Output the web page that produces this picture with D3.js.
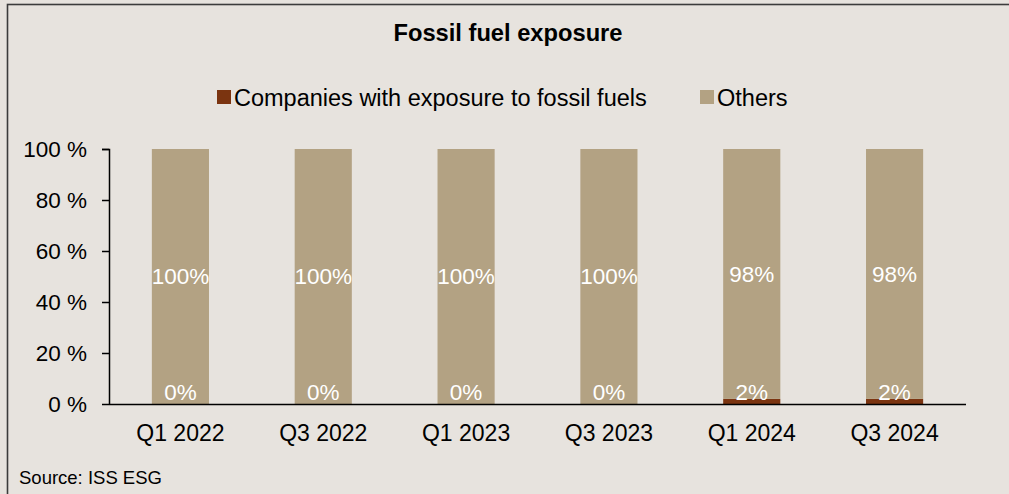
<!DOCTYPE html>
<html>
<head>
<meta charset="utf-8">
<script src="https://cdn.jsdelivr.net/npm/d3@7"></script>
<style>
  body { margin: 0; background: #e7e3de; }
  svg { display: block; font-family: "Liberation Sans", Arial, sans-serif; }
</style>
</head>
<body>
<svg id="chart"></svg>
<script>
'use strict';

let WIDTH = 1009;
let HEIGHT = 494;

let quarters = ['Q1 2022', 'Q3 2022', 'Q1 2023', 'Q3 2023', 'Q1 2024', 'Q3 2024'];
let fossil = [0, 0, 0, 0, 2, 2];
let others = [100, 100, 100, 100, 98, 98];
let seriesNames = ['Companies with exposure to fossil fuels', 'Others'];
let yTicks = [0, 20, 40, 60, 80, 100];

let COLOR = {
    fossil: '#7b3410',
    others: '#b3a283'
};
let FONT = 'Liberation Sans, Arial, sans-serif';

let svg = d3.select('#chart').attr('width', WIDTH).attr('height', HEIGHT);

// frame (right and bottom edges fall outside the picture)
svg.append('rect')
    .attr('x', 7.5).attr('y', 4.5)
    .attr('width', WIDTH + 10).attr('height', HEIGHT + 10)
    .attr('fill', '#e7e3de')
    .attr('stroke', '#3c3c3c')
    .attr('stroke-width', 1.6);

// title
svg.append('text')
    .attr('x', 508).attr('y', 41)
    .attr('text-anchor', 'middle')
    .attr('font-size', 23.7).attr('font-weight', 'bold')
    .text('Fossil fuel exposure');

// legend
let legendX = [217, 700];
let legendColors = [COLOR.fossil, COLOR.others];
let lg = svg.append('g');
seriesNames.forEach(function(name, i) {
    lg.append('rect').attr('x', legendX[i]).attr('y', 90).attr('width', 14).attr('height', 14).attr('fill', legendColors[i]);
    lg.append('text').attr('x', legendX[i] + 17).attr('y', 105.5).attr('font-size', 23.5).text(name);
});

let x = d3.scaleBand().domain(quarters).range([109, 966]).paddingInner(0.6).paddingOuter(0.3);
let y = d3.scaleLinear().domain([0, 100]).range([404, 149]);

// bars
let g = svg.append('g');
quarters.forEach(function(q, i) {
    g.append('rect')
        .attr('x', x(q)).attr('width', x.bandwidth())
        .attr('y', y(fossil[i])).attr('height', y(0) - y(fossil[i]))
        .attr('fill', COLOR.fossil);
    g.append('rect')
        .attr('x', x(q)).attr('width', x.bandwidth())
        .attr('y', y(fossil[i] + others[i])).attr('height', y(fossil[i]) - y(fossil[i] + others[i]))
        .attr('fill', COLOR.others);

    // labels
    let cx = x(q) + x.bandwidth() / 2;
    let fy = Math.min(y(fossil[i] / 2), y(0) - 12);
    g.append('text').attr('x', cx).attr('y', fy).attr('dy', '0.35em')
        .attr('text-anchor', 'middle').attr('font-size', 22.5).attr('fill', '#fff')
        .text(fossil[i] + '%');
    g.append('text').attr('x', cx).attr('y', y(fossil[i] + others[i] / 2)).attr('dy', '0.35em')
        .attr('text-anchor', 'middle').attr('font-size', 22.5).attr('fill', '#fff')
        .text(others[i] + '%');
});

// y axis
let yAxis = svg.append('g')
    .attr('transform', 'translate(109,0)')
    .call(d3.axisLeft(y).tickValues(yTicks).tickSize(7).tickPadding(15).tickFormat(function(d) { return d + ' %'; }));
yAxis.selectAll('text').attr('font-size', 22.5).attr('fill', '#000').attr('font-family', FONT);
yAxis.selectAll('line').attr('stroke', '#000').attr('stroke-width', 1.5);
yAxis.select('.domain').attr('stroke', '#000').attr('stroke-width', 1.5).attr('d', 'M-7,149.5H0.5V404.5');

// x axis
let xAxis = svg.append('g')
    .attr('transform', 'translate(0,404.5)')
    .call(d3.axisBottom(x).tickSize(0).tickPadding(20));
xAxis.selectAll('text').attr('font-size', 23).attr('fill', '#000').attr('font-family', FONT);
xAxis.select('.domain').attr('stroke', '#000').attr('stroke-width', 1.5).attr('d', 'M109,0H966');

// source
svg.append('text')
    .attr('x', 19).attr('y', 484)
    .attr('font-size', 18.5)
    .text('Source: ISS ESG');
</script>
</body>
</html>
